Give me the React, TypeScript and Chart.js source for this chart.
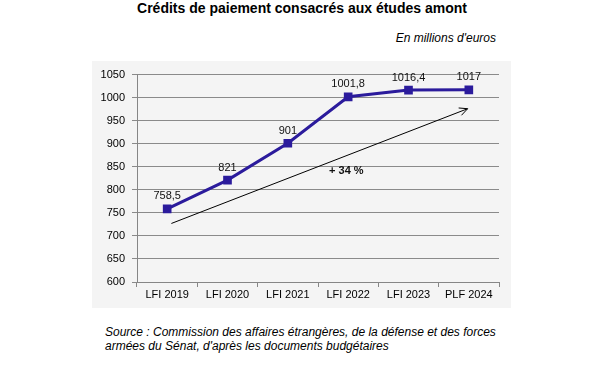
import React, { useEffect, useRef } from "react";
import { Chart, registerables } from "chart.js";

Chart.register(...registerables);

const categories = ["LFI 2019", "LFI 2020", "LFI 2021", "LFI 2022", "LFI 2023", "PLF 2024"];
const credits = [758.5, 821, 901, 1001.8, 1016.4, 1017];
const valueLabels = ["758,5", "821", "901", "1001,8", "1016,4", "1017"];
const arrowFrom = { x: 0.07, y: 727 };
const arrowTo = { x: 4.98, y: 976 };
const arrowLabel = "+ 34 %";
const arrowLabelAt = { x: 2.97, y: 840 };

const FONT = "'Liberation Sans', Arial, sans-serif";

const overlayPlugin = {
  id: "overlay",
  afterDatasetsDraw(chart: any) {
    const ctx = chart.ctx;
    const xs = chart.scales.x;
    const ys = chart.scales.y;
    const meta = chart.getDatasetMeta(0);
    ctx.save();
    ctx.font = `11px ${FONT}`;
    ctx.fillStyle = "#111";
    ctx.textAlign = "center";
    ctx.textBaseline = "bottom";
    meta.data.forEach((pt: any, i: number) => {
      ctx.fillText(valueLabels[i], pt.x, pt.y - 7);
    });
    const x1 = xs.getPixelForValue(arrowFrom.x);
    const y1 = ys.getPixelForValue(arrowFrom.y);
    const x2 = xs.getPixelForValue(arrowTo.x);
    const y2 = ys.getPixelForValue(arrowTo.y);
    ctx.strokeStyle = "#000";
    ctx.lineWidth = 1;
    ctx.beginPath();
    ctx.moveTo(x1, y1);
    ctx.lineTo(x2, y2);
    ctx.stroke();
    const ang = Math.atan2(y2 - y1, x2 - x1);
    const len = 9;
    ctx.beginPath();
    ctx.moveTo(x2 - len * Math.cos(ang - 0.45), y2 - len * Math.sin(ang - 0.45));
    ctx.lineTo(x2, y2);
    ctx.lineTo(x2 - len * Math.cos(ang + 0.45), y2 - len * Math.sin(ang + 0.45));
    ctx.stroke();
    ctx.font = `bold 11px ${FONT}`;
    ctx.textBaseline = "middle";
    ctx.fillText(arrowLabel, xs.getPixelForValue(arrowLabelAt.x), ys.getPixelForValue(arrowLabelAt.y));
    ctx.restore();
  },
};

export default function App() {
  const ref = useRef<HTMLCanvasElement | null>(null);
  useEffect(() => {
    if (!ref.current) return;
    const chart = new Chart(ref.current, {
      type: "line",
      data: {
        labels: categories,
        datasets: [
          {
            data: credits,
            borderColor: "#2b1b9c",
            backgroundColor: "#2b1b9c",
            borderWidth: 3,
            pointStyle: "rect",
            pointRadius: 4,
            pointHoverRadius: 4,
            tension: 0,
          },
        ],
      },
      options: {
        animation: false,
        responsive: false,
        devicePixelRatio: 1,
        layout: { padding: { top: 13, right: 12, left: 0, bottom: 0 } },
        plugins: { legend: { display: false }, tooltip: { enabled: false } },
        scales: {
          x: {
            offset: true,
            grid: { offset: true, drawOnChartArea: false, drawTicks: true, tickLength: 5, color: "#868686" },
            border: { color: "#868686" },
            ticks: { font: { family: FONT, size: 11 }, color: "#000", padding: 1, maxRotation: 0 },
            afterFit: (s: any) => { s.height = 26; },
          },
          y: {
            min: 600,
            max: 1050,
            ticks: {
              stepSize: 50,
              font: { family: FONT, size: 11 },
              color: "#000",
              padding: 7,
              callback: (v: any) => String(v),
            },
            grid: { color: "#8a8a8a", tickLength: 5 },
            border: { color: "#868686" },
            afterFit: (s: any) => { s.width = 45; },
          },
        },
      },
      plugins: [overlayPlugin],
    });
    return () => chart.destroy();
  }, []);

  return (
    <div style={{ position: "absolute", left: 0, top: 0, width: 604, height: 371, background: "#fff", fontFamily: FONT }}>
      <div style={{ position: "absolute", left: 0, width: 604, top: 0, textAlign: "center", fontWeight: "bold", fontSize: 14, lineHeight: "17px", color: "#000" }}>
        Crédits de paiement consacrés aux études amont
      </div>
      <div style={{ position: "absolute", right: 108, top: 31, fontStyle: "italic", fontSize: 12, lineHeight: "14px", color: "#000" }}>
        En millions d'euros
      </div>
      <canvas ref={ref} width={419} height={247} style={{ position: "absolute", left: 92, top: 61, width: 419, height: 247, background: "#f4f4f4" }} />
      <div style={{ position: "absolute", left: 105, top: 325, fontStyle: "italic", fontSize: 12, lineHeight: "14px", color: "#000" }}>
        Source : Commission des affaires étrangères, de la défense et des forces<br />
        armées du Sénat, d'après les documents budgétaires
      </div>
    </div>
  );
}
